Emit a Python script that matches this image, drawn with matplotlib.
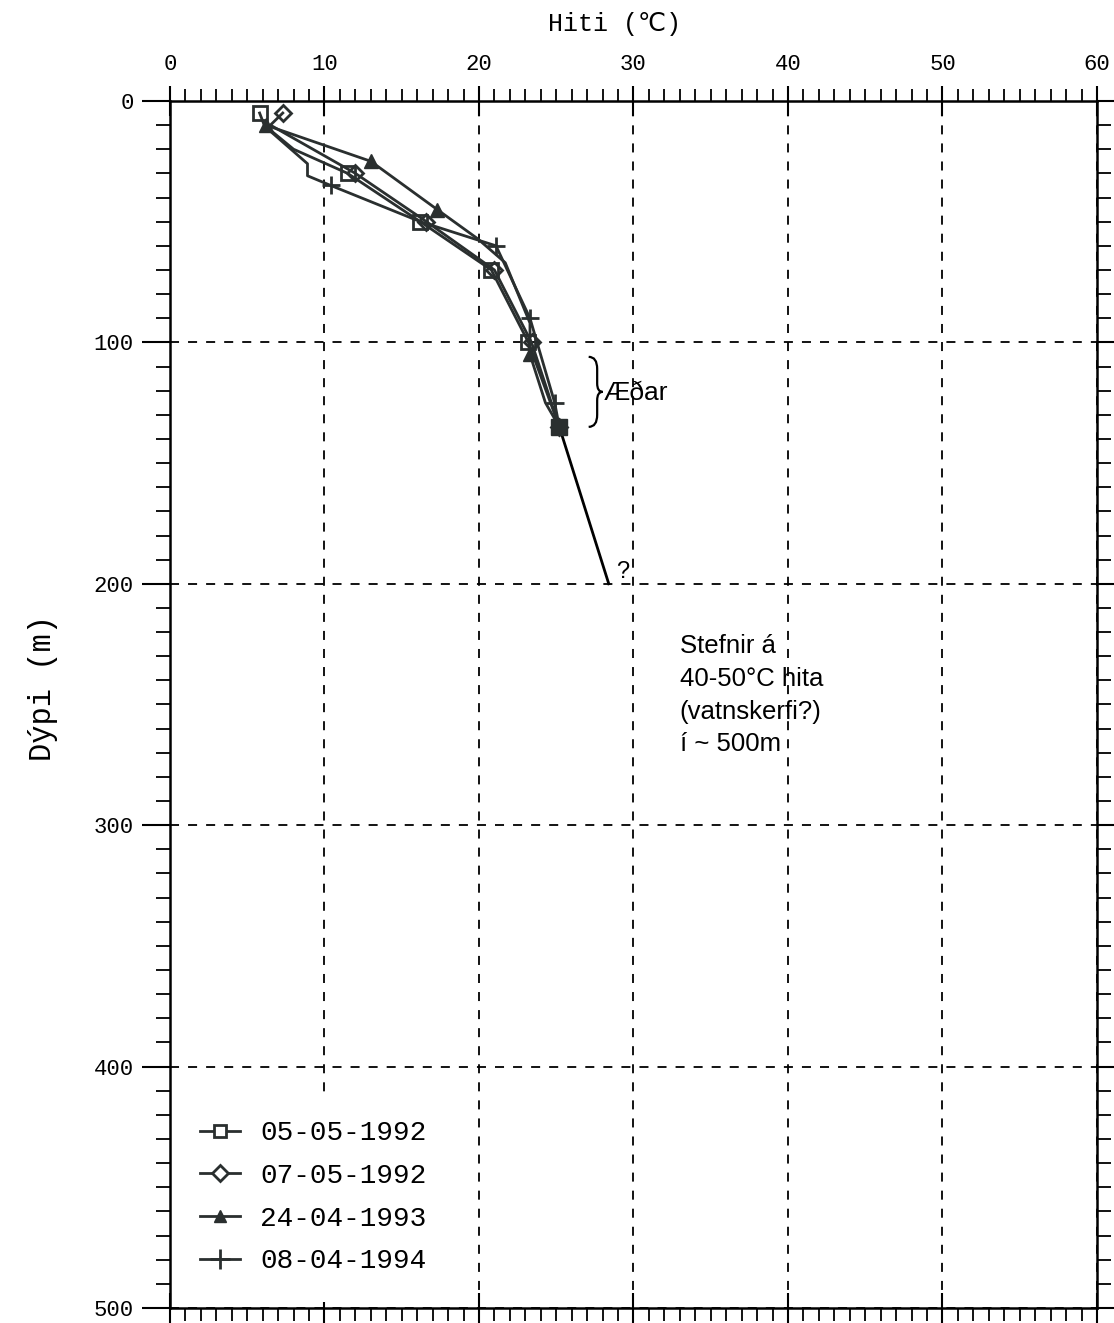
import matplotlib.pyplot as plt
from matplotlib.lines import Line2D
from matplotlib.path import Path
from matplotlib.patches import PathPatch

# series
dates = ['05-05-1992', '07-05-1992', '24-04-1993', '08-04-1994']

depth_a = [5, 10, 20, 30, 50, 70, 100, 135]
temp_a = [5.8, 6.1, 8.0, 11.5, 16.2, 20.8, 23.2, 25.2]

depth_b = [5, 10, 30, 50, 70, 100, 135]
temp_b = [7.3, 6.5, 12.0, 16.6, 21.0, 23.4, 25.2]

depth_c = [10, 25, 45, 57, 67, 92, 105, 125, 135]
temp_c = [6.2, 13.0, 17.3, 19.9, 21.7, 23.3, 23.3, 24.3, 25.2]

depth_d = [12, 26, 31, 35, 50, 60, 90, 125, 135]
temp_d = [6.4, 8.9, 8.9, 10.4, 16.2, 21.1, 23.3, 24.9, 25.2]

depth_ext = [135, 200]
temp_ext = [25.2, 28.4]

mono = ['Liberation Mono', 'DejaVu Sans']
col = '#2a2f2f'

fig = plt.figure(figsize=(11.14, 13.23), dpi=100)
ax = fig.add_axes([0.1526, 0.0113, 0.8321, 0.9124])

ax.plot(temp_a, depth_a, '-', color=col, lw=2, marker='s', ms=10, mfc='none',
        mec=col, mew=2, markevery=[0, 3, 4, 5, 6])
ax.plot(temp_b, depth_b, '-', color=col, lw=2, marker='D', ms=8, mfc='none',
        mec=col, mew=2, markevery=[0, 2, 3, 4, 5, 6])
ax.plot(temp_c, depth_c, '-', color=col, lw=2, marker='^', ms=10, mfc=col,
        mec=col, markevery=[0, 1, 2, 6])
ax.plot(temp_d, depth_d, '-', color=col, lw=2, marker='+', ms=13, mew=2,
        mec=col, markevery=[3, 5, 6, 7])
ax.plot(temp_ext, depth_ext, '-', color='black', lw=2)
# last reading looks like a solid block in the scan
ax.plot(temp_a[-1:], depth_a[-1:], 's', color=col, ms=12)

ax.set_xlim(0, 60)
ax.set_ylim(500, 0)

ax.xaxis.set_ticks_position('both')
ax.yaxis.set_ticks_position('both')
ax.xaxis.set_label_position('top')
ax.set_xticks(range(0, 61, 10))
ax.set_xticks(range(0, 61, 1), minor=True)
ax.set_yticks(range(0, 501, 100))
ax.set_yticks(range(0, 501, 10), minor=True)
ax.tick_params(axis='x', which='major', labeltop=True, labelbottom=False,
               direction='inout', length=22, width=1.5, pad=8, labelsize=16)
ax.tick_params(axis='x', which='minor', direction='out', length=9, width=1.3)
ax.tick_params(axis='y', which='major', direction='out', length=20, width=1.5,
               pad=6, labelsize=16)
ax.tick_params(axis='y', which='minor', direction='out', length=10, width=1.3)
for lab in ax.get_xticklabels() + ax.get_yticklabels():
    lab.set_family(mono)

for s in ax.spines.values():
    s.set_linewidth(1.8)

ax.grid(True, which='major', color='black', ls=(0, (5, 5)), lw=1.3)

ax.set_xlabel('Hiti (℃)', fontsize=18, family=mono, labelpad=16)
ax.xaxis.label.set_x(0.48)
ax.set_ylabel('Dýpi (m)', fontsize=22, family=mono, labelpad=26)
ax.yaxis.label.set_y(0.514)

# brace next to the inflow zone
brace = Path([(27.1, 106), (27.65, 106), (27.65, 111), (27.65, 117),
              (27.65, 120.5), (28.0, 120.5), (27.65, 120.5), (27.65, 124),
              (27.65, 130), (27.65, 135), (27.1, 135)],
             [Path.MOVETO, Path.CURVE3, Path.CURVE3, Path.LINETO,
              Path.CURVE3, Path.CURVE3, Path.CURVE3, Path.CURVE3,
              Path.LINETO, Path.CURVE3, Path.CURVE3])
ax.add_patch(PathPatch(brace, fc='none', ec='black', lw=1.6))
ax.text(28.1, 121, 'Æðar', fontsize=19, family='Liberation Sans', va='center')
ax.text(28.9, 195, '?', fontsize=17, family='Liberation Sans', va='center')
ax.text(33.0, 221, 'Stefnir á\n40-50°C hita\n(vatnskerfi?)\ní ~ 500m',
        fontsize=18.5, family='Liberation Sans', va='top', ha='left',
        linespacing=1.45)

handles = [
    Line2D([], [], color=col, lw=2, marker='s', ms=9, mfc='white', mec=col, mew=2),
    Line2D([], [], color=col, lw=2, marker='D', ms=8, mfc='white', mec=col, mew=2),
    Line2D([], [], color=col, lw=2, marker='^', ms=9, mfc=col, mec=col),
    Line2D([], [], color=col, lw=2, marker='+', ms=14, mew=2, mec=col),
]
leg = ax.legend(handles, dates, loc='lower left', bbox_to_anchor=(0.002, 0.005),
                borderaxespad=0, frameon=True, edgecolor='none', facecolor='white',
                framealpha=1, prop={'family': mono, 'size': 20},
                handlelength=1.45, labelspacing=0.6, borderpad=1.0,
                handletextpad=0.72)

fig.savefig('out.png', dpi=100)
